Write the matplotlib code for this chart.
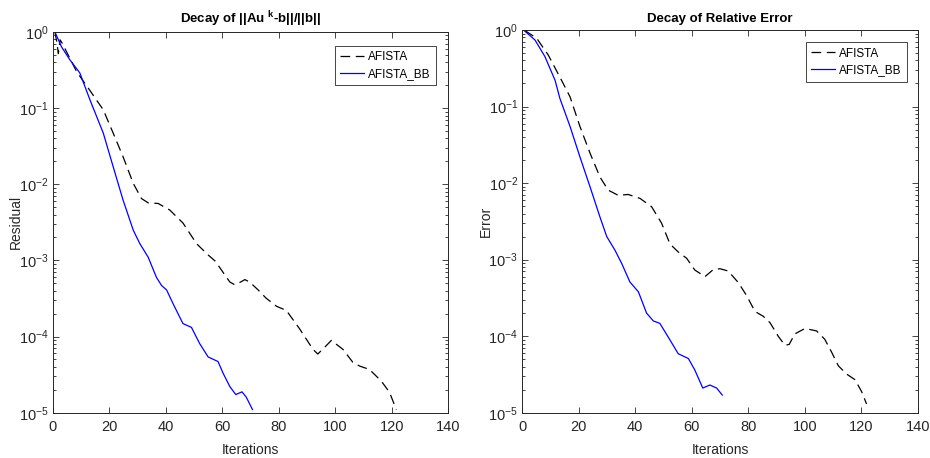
import matplotlib
matplotlib.use("Agg")
import matplotlib.pyplot as plt
from matplotlib.ticker import LogLocator, FixedLocator

plt.rcParams['font.family'] = ['Liberation Sans', 'DejaVu Sans']
plt.rcParams['mathtext.fontset'] = 'custom'
plt.rcParams['mathtext.rm'] = 'Liberation Sans'
plt.rcParams['mathtext.bf'] = 'Liberation Sans:bold'
plt.rcParams['mathtext.it'] = 'Liberation Sans:italic'
plt.rcParams['lines.scale_dashes'] = False

# ---- Left panel: residual ----
res_afista_x = [0.8, 1.5, 2.0, 2.6, 3.3, 8.5, 13.2, 17.9, 21.4, 24.9, 28.5, 31.4, 33.8, 37.3,
                41.4, 46.1, 50.9, 55.0, 57.5, 59.7, 62.7, 64.4, 66.5, 68.0, 69.7, 72.7, 75.5,
                79.2, 82.7, 87.4, 92.1, 93.8, 96.2, 98.6, 102.7, 106.2, 108.6, 112.1, 116.3,
                119.2, 121.6]
res_afista_y = [1.0, 0.72, 0.52, 0.79, 0.72, 0.30, 0.17, 0.095, 0.047, 0.023, 0.0103, 0.0065,
                0.0057, 0.0056, 0.0046, 0.0031, 0.00166, 0.00118, 0.00098, 0.00075, 0.00052,
                0.00048, 0.00052, 0.00056, 0.00052, 0.00041, 0.00032, 0.00025, 0.00022,
                0.000126, 6.8e-5, 5.9e-5, 7.2e-5, 8.9e-5, 6.8e-5, 4.6e-5, 4.1e-5, 3.7e-5,
                2.6e-5, 1.85e-5, 1.1e-5]

res_bb_x = [0.8, 3.1, 6.1, 9.6, 13.2, 17.9, 21.4, 24.9, 28.5, 30.8, 33.8, 36.7, 38.5, 40.3,
            42.6, 46.1, 49.1, 52.0, 55.0, 58.5, 60.3, 62.7, 64.8, 67.0, 68.5, 70.7]
res_bb_y = [1.0, 0.64, 0.43, 0.29, 0.128, 0.047, 0.017, 0.0062, 0.0025, 0.00167, 0.0011,
            0.0006, 0.00047, 0.00041, 0.00027, 0.000148, 0.000132, 8.1e-5, 5.4e-5, 4.7e-5,
            3.3e-5, 2.2e-5, 1.73e-5, 1.88e-5, 1.6e-5, 1.1e-5]

# ---- Right panel: relative error ----
err_afista_x = [1.0, 5.1, 9.2, 13.9, 16.9, 20.4, 24.0, 27.5, 30.4, 34.0, 37.5, 41.7, 45.8,
                49.3, 52.3, 55.2, 58.2, 61.1, 64.7, 67.6, 70.0, 72.9, 76.5, 79.4, 82.4, 85.3,
                87.7, 90.6, 93.0, 94.5, 96.5, 100.1, 104.2, 107.1, 109.5, 111.9, 114.8, 117.8,
                120.1, 121.9]
err_afista_y = [0.98, 0.78, 0.47, 0.22, 0.134, 0.055, 0.0245, 0.012, 0.0081, 0.0069, 0.0071,
                0.0063, 0.0049, 0.0030, 0.0016, 0.00126, 0.00104, 0.00073, 0.0006, 0.00074,
                0.00076, 0.00071, 0.0005, 0.00034, 0.00021, 0.000182, 0.00015, 1.0e-4,
                7.6e-5, 7.8e-5, 1.07e-4, 1.26e-4, 1.17e-4, 9.1e-5, 6.2e-5, 4.1e-5, 3.2e-5,
                2.7e-5, 1.9e-5, 1.3e-5]

err_bb_x = [0.7, 4.5, 8.0, 11.6, 13.3, 16.9, 20.4, 24.0, 27.5, 29.9, 32.8, 35.2, 38.1, 41.1,
            44.0, 46.4, 48.7, 52.3, 55.2, 58.8, 61.1, 63.9, 66.4, 68.8, 70.8]
err_bb_y = [0.98, 0.74, 0.45, 0.22, 0.128, 0.055, 0.022, 0.0089, 0.0036, 0.002, 0.00133,
            0.00089, 0.00051, 0.00038, 0.0002, 0.000158, 0.000147, 8.9e-5, 5.9e-5, 5.1e-5,
            3.6e-5, 2.1e-5, 2.3e-5, 2.1e-5, 1.7e-5]

xticks = [0, 20, 40, 60, 80, 100, 120, 140]
labels = ['AFISTA', 'AFISTA_BB']
titles = [r'Decay of ||Au $^{\mathbf{k}}$-b||/||b||', 'Decay of Relative Error']
ylabels = ['Residual', 'Error']

fig = plt.figure(figsize=(9.3, 4.58), dpi=100)
ax1 = fig.add_axes([52.7 / 930, 1 - 412.7 / 458, (448.3 - 52.7) / 930, (412.7 - 32) / 458])
ax2 = fig.add_axes([522.3 / 930, 1 - 412.7 / 458, (917.7 - 522.3) / 930, (412.7 - 30) / 458])

spine_col = '#262626'
data = [(res_afista_x, res_afista_y, res_bb_x, res_bb_y),
        (err_afista_x, err_afista_y, err_bb_x, err_bb_y)]
legend_boxes = [(339, 46, 436, 87.7), (809.3, 42.3, 906.7, 83.3)]

for i, ax in enumerate([ax1, ax2]):
    ax_, ay_, bx_, by_ = data[i]
    ax.plot(ax_, ay_, color='black', lw=0.9, linestyle=(0, (7, 4)), label=labels[0])
    ax.plot(bx_, by_, color='#0000ff', lw=0.9, linestyle='-', label=labels[1])
    ax.set_yscale('log')
    ax.set_xlim(0, 140)
    ax.set_ylim(1e-5, 1)
    ax.xaxis.set_major_locator(FixedLocator(xticks))
    ax.yaxis.set_major_locator(LogLocator(base=10, numticks=10))
    ax.yaxis.set_minor_locator(LogLocator(base=10, subs=range(2, 10), numticks=20))
    ax.tick_params(which='both', direction='in', top=True, right=True, colors=spine_col,
                   labelcolor='#262626', labelsize=10.5, width=0.6)
    ax.tick_params(which='major', length=4)
    ax.tick_params(which='minor', length=2)
    ax.tick_params(axis='x', pad=5)
    ax.tick_params(axis='y', pad=3)
    for s in ax.spines.values():
        s.set_color(spine_col)
        s.set_linewidth(0.7)
    ax.set_title(titles[i], fontsize=9.5, fontweight='bold', pad=6)
    ax.set_xlabel('Iterations', fontsize=10, color='#262626', labelpad=7)
    ax.set_ylabel(ylabels[i], fontsize=10, color='#262626', labelpad=-3)
    x0, y0, x1, y1 = legend_boxes[i]
    leg = ax.legend(loc='upper right', fontsize=8.5, frameon=True, fancybox=False,
                    edgecolor=spine_col, framealpha=1, handlelength=2.0,
                    borderpad=0.45, labelspacing=0.4, handletextpad=0.35, borderaxespad=0,
                    bbox_to_anchor=(x1 / 930, 1 - y0 / 458), bbox_transform=fig.transFigure)
    leg.get_frame().set_linewidth(0.6)

fig.savefig('out.png', dpi=100)
